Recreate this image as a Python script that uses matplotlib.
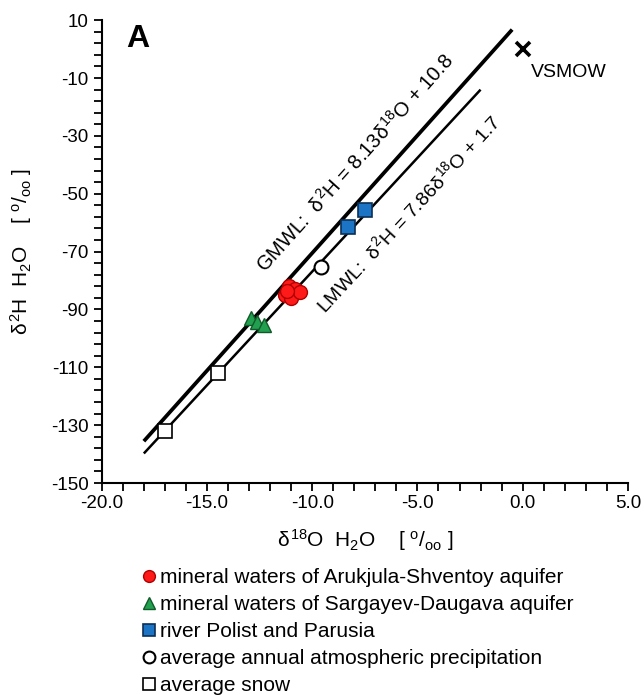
import numpy as np
import matplotlib.pyplot as plt
from matplotlib.ticker import MultipleLocator, FixedLocator, FormatStrFormatter

plt.rcParams['font.family'] = ['Liberation Sans', 'DejaVu Sans']
plt.rcParams['mathtext.fontset'] = 'custom'
plt.rcParams['mathtext.rm'] = 'Liberation Sans'
plt.rcParams['mathtext.it'] = 'Liberation Sans'

# isotope data, d18O / d2H in permil
arukjula_o = [-11.1, -10.8, -11.3, -11.0, -10.6, -11.2]
arukjula_h = [-82.0, -83.0, -85.0, -86.0, -84.0, -83.5]
sargayev_o = [-12.9, -12.6, -12.3]
sargayev_h = [-93.0, -94.5, -95.5]
river_o = [-8.3, -7.5]
river_h = [-61.5, -55.5]
precip_o = [-9.6]
precip_h = [-75.3]
snow_o = [-14.5, -17.0]
snow_h = [-112.0, -132.0]
vsmow_o, vsmow_h = 0.0, 0.0

# meteoric water lines: slope, intercept, x range
gmwl = (8.13, 10.8, -18.0, -0.5)
lmwl = (7.86, 1.7, -18.0, -2.0)

fig = plt.figure(figsize=(6.44, 6.95), dpi=100)
ax = fig.add_axes([0.158, 0.305, 0.817, 0.666])

for slope, icpt, x0, x1, lw in [gmwl + (2.7,), lmwl + (1.8,)]:
    xs = np.array([x0, x1])
    ax.plot(xs, slope * xs + icpt, color='black', lw=lw, solid_capstyle='butt', zorder=2)

ax.plot(arukjula_o, arukjula_h, 'o', ms=10, mfc='#ff1a1a', mec='#b00000', mew=1,
        label='mineral waters of Arukjula-Shventoy aquifer', zorder=4)
ax.plot(sargayev_o, sargayev_h, '^', ms=10.5, mfc='#22a050', mec='#0f5a28', mew=1,
        label='mineral waters of Sargayev-Daugava aquifer', zorder=4)
ax.plot(river_o, river_h, 's', ms=9.5, mfc='#1b75c4', mec='#0c2f55', mew=1.2,
        label='river Polist and Parusia', zorder=4)
ax.plot(precip_o, precip_h, 'o', ms=10, mfc='white', mec='black', mew=1.5,
        label='average annual atmospheric precipitation', zorder=4)
ax.plot(snow_o, snow_h, 's', ms=10, mfc='white', mec='black', mew=1.2,
        label='average snow', zorder=4)
ax.plot(vsmow_o, vsmow_h, 'x', ms=10, mec='black', mew=2.6, zorder=4)
ax.text(0.4, -5.2, 'VSMOW', fontsize=14, ha='left', va='top')

ax.set_xlim(-20, 5)
ax.set_ylim(-150, 10)
ax.xaxis.set_major_locator(MultipleLocator(5))
ax.xaxis.set_minor_locator(MultipleLocator(1))
ax.yaxis.set_major_locator(FixedLocator(np.arange(-150, 11, 20)))
ax.yaxis.set_minor_locator(FixedLocator(np.arange(-150, 11, 4)))
ax.xaxis.set_major_formatter(FormatStrFormatter('%.1f'))
ax.yaxis.set_major_formatter(FormatStrFormatter('%d'))
for s in ['top', 'right']:
    ax.spines[s].set_visible(False)
for s in ['left', 'bottom']:
    ax.spines[s].set_linewidth(1.5)
ax.tick_params(which='both', direction='out', width=1.3, length=5.5, labelsize=13.5)
ax.tick_params(axis='x', pad=3)
ax.tick_params(axis='y', pad=4)

ax.set_xlabel(r'$\delta^{18}$O  H$_2$O    [ $^{o}/_{oo}$ ]', fontsize=15, labelpad=11)
ax.set_ylabel(r'$\delta^{2}$H  H$_2$O    [ $^{o}/_{oo}$ ]', fontsize=15, labelpad=12)

ax.text(0.046, 0.991, 'A', transform=ax.transAxes, fontsize=23, fontweight='bold', va='top')

# equation labels rotated along the lines
fig.canvas.draw()
def line_angle(slope):
    p = ax.transData.transform([(-15, -15 * slope), (-5, -5 * slope)])
    return np.degrees(np.arctan2(p[1, 1] - p[0, 1], p[1, 0] - p[0, 0]))

ax.text(-7.95, -39.4, r'GMWL:  $\delta^{2}$H = 8.13$\delta^{18}$O + 10.8', fontsize=14.5,
        rotation=line_angle(gmwl[0]), rotation_mode='anchor', ha='center', va='center')
ax.text(-5.45, -57.0, r'LMWL:  $\delta^{2}$H = 7.86$\delta^{18}$O + 1.7', fontsize=14,
        rotation=line_angle(lmwl[0]), rotation_mode='anchor', ha='center', va='center')

ax.legend(loc='upper left', bbox_to_anchor=(0.078, -0.184), frameon=False, fontsize=15,
          handlelength=0.6, handletextpad=0.25, labelspacing=0.38, markerscale=0.85,
          borderpad=0, borderaxespad=0)

fig.savefig('out.png', dpi=100)
